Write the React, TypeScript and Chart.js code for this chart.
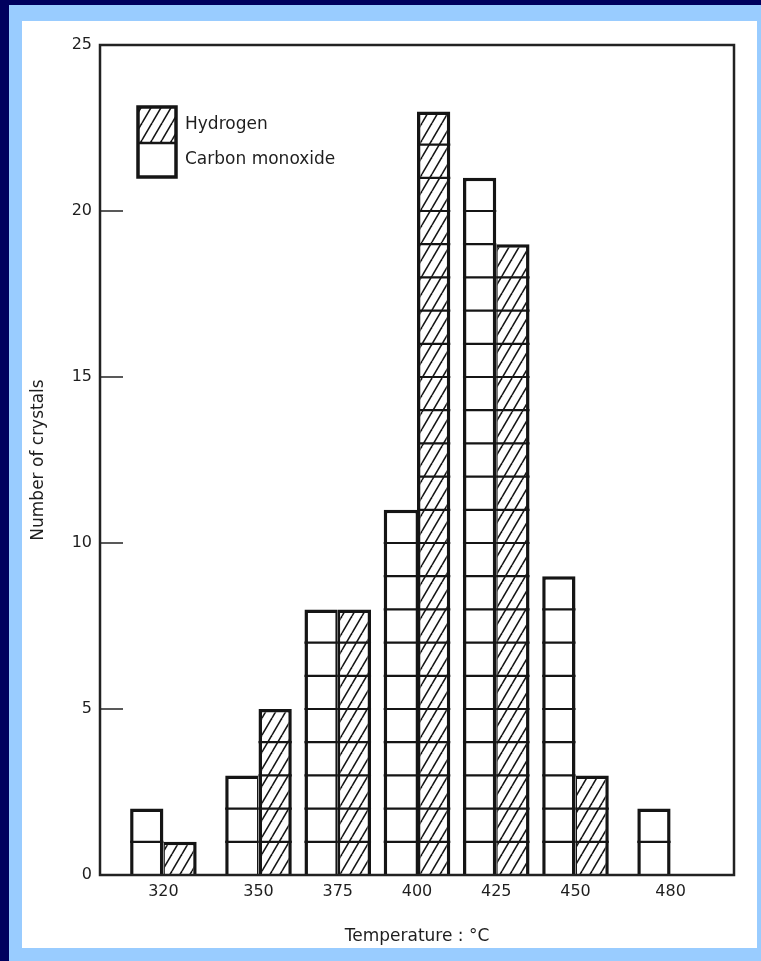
import React, { useEffect, useRef } from "react";
import { Chart, registerables } from "chart.js";

Chart.register(...registerables);

// ---- data ----
const temperatures = [320, 350, 375, 400, 425, 450, 480];
const carbonMonoxide = [2, 3, 8, 11, 21, 9, 2];
const hydrogen = [1, 5, 8, 23, 19, 3, 0];
const seriesLabels = ["Carbon monoxide", "Hydrogen"];
const yMin = 0;
const yMax = 25;
const yStep = 5;
const xTitle = "Temperature : °C";
const yTitle = "Number of crystals";

const FONT = "'DejaVu Sans', sans-serif";
const INK = "#151515";
const TEXT = "#1e1e1e";

function makeHatch(ctx: CanvasRenderingContext2D): CanvasPattern | string {
  const w = 10;
  const h = 17;
  const c = document.createElement("canvas");
  c.width = w;
  c.height = h;
  const g = c.getContext("2d");
  if (!g) return "#fff";
  g.fillStyle = "#ffffff";
  g.fillRect(0, 0, w, h);
  g.strokeStyle = INK;
  g.lineWidth = 1.6;
  for (const dx of [-w, 0, w]) {
    g.beginPath();
    g.moveTo(dx, h);
    g.lineTo(dx + w, 0);
    g.stroke();
  }
  return ctx.createPattern(c, "repeat") || "#fff";
}

const decorPlugin = {
  id: "decor",
  afterDatasetsDraw(chart: any) {
    const { ctx, chartArea: a } = chart;
    const y = chart.scales.y;
    ctx.save();

    // unit divisions inside every bar
    ctx.strokeStyle = INK;
    ctx.lineWidth = 2.2;
    chart.data.datasets.forEach((ds: any, di: number) => {
      const meta = chart.getDatasetMeta(di);
      meta.data.forEach((bar: any, i: number) => {
        const v = ds.data[i].y;
        const { x, width } = bar.getProps(["x", "width"], true);
        for (let k = 1; k < v; k++) {
          const py = y.getPixelForValue(k);
          ctx.beginPath();
          ctx.moveTo(x - width / 2, py);
          ctx.lineTo(x + width / 2, py);
          ctx.stroke();
        }
      });
    });

    // inward y ticks
    ctx.lineWidth = 1.5;
    ctx.strokeStyle = "#222";
    y.ticks.forEach((t: any) => {
      const py = y.getPixelForValue(t.value);
      ctx.beginPath();
      ctx.moveTo(a.left, py);
      ctx.lineTo(a.left + 23, py);
      ctx.stroke();
    });

    // frame
    ctx.lineWidth = 2.5;
    ctx.strokeRect(a.left, a.top, a.right - a.left, a.bottom - a.top);

    // legend (Hydrogen on top, Carbon monoxide below)
    const bx = a.left + 38;
    const by = a.top + 62;
    const bw = 38;
    const ch1 = 36;
    const ch2 = 34;
    const hDs = chart.data.datasets[1];
    const cDs = chart.data.datasets[0];
    ctx.fillStyle = hDs.backgroundColor;
    ctx.fillRect(bx, by, bw, ch1);
    ctx.fillStyle = "#ffffff";
    ctx.fillRect(bx, by + ch1, bw, ch2);
    ctx.strokeStyle = INK;
    ctx.lineWidth = 2.5;
    ctx.beginPath();
    ctx.moveTo(bx, by + ch1);
    ctx.lineTo(bx + bw, by + ch1);
    ctx.stroke();
    ctx.lineWidth = 3.5;
    ctx.strokeRect(bx, by, bw, ch1 + ch2);

    ctx.fillStyle = TEXT;
    ctx.font = `17px ${FONT}`;
    ctx.textBaseline = "middle";
    ctx.textAlign = "left";
    ctx.fillText(hDs.label, bx + bw + 9, by + ch1 / 2);
    ctx.fillText(cDs.label, bx + bw + 9, by + ch1 + ch2 / 2);

    ctx.restore();
  },
};

export default function App() {
  const canvasRef = useRef<HTMLCanvasElement | null>(null);

  useEffect(() => {
    const canvas = canvasRef.current;
    if (!canvas) return;
    const ctx = canvas.getContext("2d");
    if (!ctx) return;
    const hatch = makeHatch(ctx);

    const chart = new Chart(ctx, {
      type: "bar",
      data: {
        datasets: [
          {
            label: seriesLabels[0],
            data: temperatures.map((t, i) => ({ x: t, y: carbonMonoxide[i] })),
            backgroundColor: "#ffffff",
            borderColor: INK,
            borderWidth: (c: any) => {
              const i = c.dataIndex;
              const co = carbonMonoxide[i];
              const h = hydrogen[i];
              return { top: 3.5, left: 3.5, bottom: 0, right: co > h ? 3.5 : co < h ? 1.5 : 2.5 };
            },
            borderSkipped: "start",
            categoryPercentage: 0.84,
            barPercentage: 1.0,
          } as any,
          {
            label: seriesLabels[1],
            data: temperatures.map((t, i) => ({ x: t, y: hydrogen[i] })),
            backgroundColor: hatch,
            borderColor: INK,
            borderWidth: (c: any) => {
              const i = c.dataIndex;
              const co = carbonMonoxide[i];
              const h = hydrogen[i];
              return { top: 3.5, right: 3.5, bottom: 0, left: h > co ? 3.5 : h < co ? 1.5 : 2.5 };
            },
            borderSkipped: "start",
            categoryPercentage: 0.84,
            barPercentage: 1.0,
          } as any,
        ],
      },
      options: {
        responsive: false,
        animation: false,
        devicePixelRatio: 1,
        events: [],
        layout: { padding: { left: 0, top: 24, right: 23, bottom: 0 } },
        plugins: {
          legend: { display: false },
          tooltip: { enabled: false },
        },
        scales: {
          x: {
            type: "linear",
            min: 300,
            max: 500,
            offset: false,
            grid: { display: false, drawTicks: false },
            border: { display: false },
            afterBuildTicks: (s: any) => {
              s.ticks = temperatures.map((v) => ({ value: v }));
            },
            afterFit: (s: any) => {
              s.height = 73;
            },
            ticks: {
              autoSkip: false,
              maxRotation: 0,
              padding: 7,
              color: TEXT,
              font: { family: FONT, size: 16 },
              callback: (v: any) => String(v),
            },
            title: {
              display: true,
              text: xTitle,
              color: TEXT,
              font: { family: FONT, size: 17 },
              padding: { top: 0, bottom: 1 },
            },
          },
          y: {
            min: yMin,
            max: yMax,
            grid: { display: false, drawTicks: false },
            border: { display: false },
            afterFit: (s: any) => {
              s.width = 78;
            },
            ticks: {
              stepSize: yStep,
              padding: 8,
              color: TEXT,
              font: { family: FONT, size: 16 },
            },
            title: {
              display: true,
              text: yTitle,
              color: TEXT,
              font: { family: FONT, size: 17 },
              padding: { top: 6, bottom: 0 },
            },
          },
        },
      } as any,
      plugins: [decorPlugin],
    });

    return () => chart.destroy();
  }, []);

  return (
    <div
      style={{
        position: "fixed",
        left: 0,
        top: 0,
        width: 761,
        height: 961,
        background: "#00005e",
        overflow: "hidden",
      }}
    >
      <div
        style={{
          position: "absolute",
          left: 9,
          top: 5,
          width: 752,
          height: 956,
          background: "#99ccff",
        }}
      />
      <div
        style={{
          position: "absolute",
          left: 22,
          top: 21,
          width: 735,
          height: 927,
          background: "#ffffff",
        }}
      >
        <canvas
          ref={canvasRef}
          width={735}
          height={927}
          style={{ display: "block", width: 735, height: 927 }}
        />
      </div>
    </div>
  );
}
